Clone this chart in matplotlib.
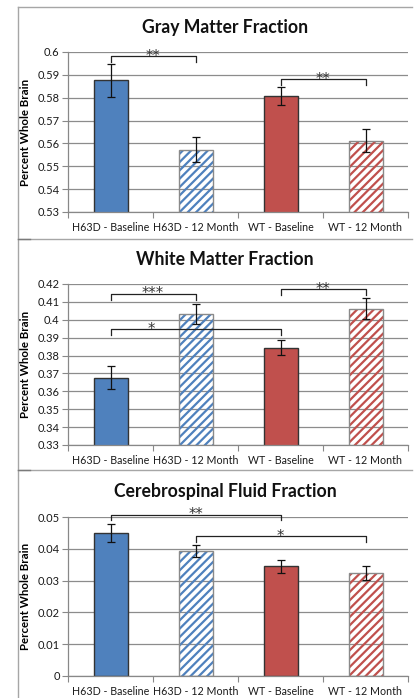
import numpy as np
import matplotlib
matplotlib.use('Agg')
from matplotlib import pyplot as plt
from matplotlib.lines import Line2D

plt.rcParams['font.family'] = ['Lato', 'DejaVu Sans']
plt.rcParams['hatch.linewidth'] = 1.6

labels = ['H63D - Baseline', 'H63D - 12 Month', 'WT - Baseline', 'WT - 12 Month']

gray_vals = [0.5877, 0.5573, 0.5807, 0.5612]
gray_err = [0.0072, 0.0055, 0.0038, 0.0051]
white_vals = [0.3677, 0.4032, 0.3845, 0.4062]
white_err = [0.0065, 0.0055, 0.0044, 0.0057]
csf_vals = [0.0449, 0.0393, 0.0345, 0.0324]
csf_err = [0.0029, 0.0020, 0.0021, 0.0023]

# significance brackets: (from bar, to bar, line height, stars, star x)
gray_sig = [(0, 1, 0.5981, '**', 0.5), (2, 3, 0.5880, '**', 2.5)]
white_sig = [(0, 1, 0.4144, '***', 0.5), (0, 2, 0.3946, '*', 0.48), (2, 3, 0.4170, '**', 2.5)]
csf_sig = [(0, 2, 0.0507, '**', 1.0), (1, 3, 0.0439, '*', 2.0)]

BLUE = '#4f81bd'
RED = '#c0504d'
colors = [BLUE, BLUE, RED, RED]
hatched = [False, True, False, True]

W, H = 418, 698
fig = plt.figure(figsize=(W / 100, H / 100), dpi=100)


def px_ax(x0, x1, ytop, ybot):
    return fig.add_axes([x0 / W, 1 - ybot / H, (x1 - x0) / W, (ybot - ytop) / H])


def panel(ax, title, title_y, vals, errs, ylim, step, sig):
    x = np.arange(len(vals))
    for i in range(len(vals)):
        if hatched[i]:
            ax.bar(x[i], vals[i], 0.4, facecolor='none', edgecolor=colors[i],
                   hatch='////', linewidth=0, zorder=2)
            ax.bar(x[i], vals[i], 0.4, fill=False, edgecolor='#8a8a8a',
                   linewidth=1, zorder=3)
        else:
            ax.bar(x[i], vals[i], 0.4, color=colors[i], edgecolor='#333333',
                   linewidth=1, zorder=2)
    ax.errorbar(x, vals, yerr=errs, fmt='none', ecolor='#111111',
                elinewidth=0.9, capsize=2.6, capthick=0.9, zorder=4)

    ax.set_xlim(-0.5, 3.5)
    ax.set_ylim(*ylim)
    ticks = np.round(np.arange(ylim[0], ylim[1] + step / 2, step), 4)
    ax.set_yticks(ticks)
    ax.set_yticklabels(['{:g}'.format(t) for t in ticks])
    ax.set_xticks([-0.5, 0.5, 1.5, 2.5, 3.5])
    ax.set_xticklabels([])
    ax.set_xticks(x, minor=True)
    ax.set_xticklabels(labels, minor=True)
    ax.tick_params(axis='x', which='major', length=4, color='#888888', width=0.8)
    ax.tick_params(axis='x', which='minor', length=0, pad=7, labelsize=7.7,
                   labelcolor='#1a1a1a')
    ax.tick_params(axis='y', length=4, color='#888888', width=0.8, labelsize=8,
                   labelcolor='#1a1a1a', pad=2)
    ax.grid(axis='y', color='#8c8c8c', linewidth=0.9, zorder=0)
    ax.set_axisbelow(True)
    for s in ['top', 'right']:
        ax.spines[s].set_visible(False)
    for s in ['left', 'bottom']:
        ax.spines[s].set_color('#888888')
        ax.spines[s].set_linewidth(0.9)
    ax.set_ylabel('Percent Whole Brain', fontsize=8.3, fontweight='bold')
    ax.yaxis.set_label_coords(-0.11, 0.5)

    leg = (ylim[1] - ylim[0]) * 5.7 / 160
    for a, b, y, stars, sx in sig:
        ax.plot([a, a, b, b], [y - leg, y, y, y - leg], color='#222222',
                linewidth=0.9, clip_on=False, zorder=5)
        ax.annotate(stars, (sx, y), xytext=(0, -3.2),
                    textcoords='offset points', ha='center', va='baseline',
                    fontsize=10.5, color='#333333', family='DejaVu Sans',
                    annotation_clip=False, zorder=6)

    fig.text(225 / W, 1 - title_y / H, title, ha='center', va='center',
             fontsize=12.7, fontweight='bold', color='#111111')


ax1 = px_ax(68, 408, 52, 212)
panel(ax1, 'Gray Matter Fraction', 28, gray_vals, gray_err, (0.53, 0.6), 0.01, gray_sig)
ax2 = px_ax(68, 408, 284, 445)
panel(ax2, 'White Matter Fraction', 260, white_vals, white_err, (0.33, 0.42), 0.01, white_sig)
ax3 = px_ax(68, 408, 517, 676)
panel(ax3, 'Cerebrospinal Fluid Fraction', 492, csf_vals, csf_err, (0, 0.05), 0.01, csf_sig)

# chart frames
fc = '#a6a6a6'
fig.add_artist(Line2D([18 / W, 18 / W], [1 - 7 / H, 0], color=fc, lw=1))
for yt in [7, 239, 470]:
    fig.add_artist(Line2D([18 / W, 412 / W], [1 - yt / H] * 2, color=fc, lw=1))
for yt in [239, 470]:
    fig.add_artist(Line2D([18 / W, 30 / W], [1 - yt / H] * 2, color='#7a7a7a', lw=1))

fig.savefig('out.png', dpi=100)
